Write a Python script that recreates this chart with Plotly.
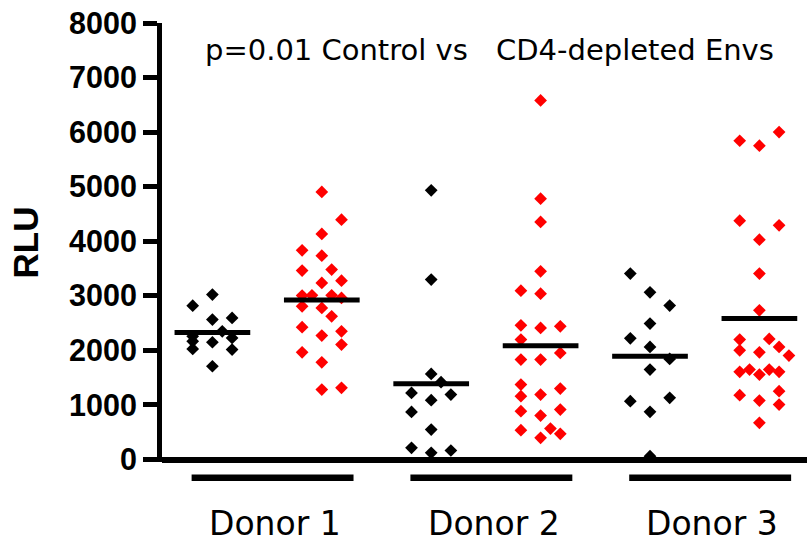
import plotly.graph_objects as go

# Group labels
donors = ["Donor 1", "Donor 2", "Donor 3"]
title_left = "p=0.01 Control vs"
title_right = "CD4-depleted Envs"

# RLU values per donor: control Envs (black) and CD4-depleted Envs (red)
d1_control = [3022, 2820, 2564, 2595, 2350, 2258, 2167, 2027, 2149, 2229, 2015, 1709]
d1_depleted = [4903, 4396, 4134, 3834, 3736, 3462, 3480, 3236, 3278, 3004, 3010, 3010,
               2961, 2808, 2778, 2625, 2424, 2271, 2350, 2106, 1965, 1782, 1282, 1313]
d2_control = [4933, 3297, 1569, 1416, 1221, 1190, 1087, 872, 549, 214, 122, 165]
d2_depleted = [6581, 4780, 4353, 3449, 3095, 3040, 2460, 2412, 2442, 2198, 1832, 1832,
               1954, 1374, 1160, 1190, 1300, 885, 806, 916, 537, 397, 568, 470]
d3_control = [3407, 3065, 2821, 2491, 2222, 2063, 1844, 1648, 1068, 1130, 873, 61]
d3_depleted = [6001, 5842, 5751, 4377, 4292, 4029, 3407, 2735, 2198, 2210, 2002, 1965,
               2063, 1905, 1606, 1648, 1557, 1648, 1606, 1178, 1081, 1251, 1007, 672]

# Horizontal scatter slot of each point (column spread), same order as the values
d1_control_slot = [0, -1, 0, 1, 0.5, -1, -1, -1, 0, 1, 1, 0]
d1_depleted_slot = [0, 1, 0, -1, 0, -1, 0.5, 0, 1, -1, -0.5, 0.5,
                    1, -1, 0, 0.5, -1, 0, 1, 1, -1, 0, 0, 1]
d2_control_slot = [0, 0, 0, 0.5, -1, 1, 0, -1, 0, -1, 0, 1]
d2_depleted_slot = [0, 0, 0, 0, -1, 0, -1, 0, 1, -1, -1, 0,
                    1, -1, -1, 0, 1, -1, 0, 1, -1, 0, 0.5, 1]
d3_control_slot = [-1, 0, 1, 0, -1, 0, 1, 0, -1, 1, 0, 0]
d3_depleted_slot = [1, -1, 0, -1, 1, 0, 0, 0, -1, 0.5, -1, 0,
                    1, 1.5, -1, -0.5, 0, 0.5, 1, -1, 0, 1, 1, 0]

series = [
    (d1_control, d1_control_slot, "black"),
    (d1_depleted, d1_depleted_slot, "#ff0000"),
    (d2_control, d2_control_slot, "black"),
    (d2_depleted, d2_depleted_slot, "#ff0000"),
    (d3_control, d3_control_slot, "black"),
    (d3_depleted, d3_depleted_slot, "#ff0000"),
]

# Layout geometry
W, H = 807, 544
L, T, B = 162, 23, 82
X0_PX, PX_PER_X = 212.4, 109.4          # pixel of first column, pixels per column
PX_PER_Y = 436.5 / 8000                 # pixels per RLU
SLOT = 0.18                             # spread step in column units
HALF_MEAN = 0.346                       # half length of mean bars

x_range = [(L - X0_PX) / PX_PER_X, (W - X0_PX) / PX_PER_X]
plot_h = H - T - B
y_range = [8000 - plot_h / PX_PER_Y, 8000]

fig = go.Figure()

for i, (vals, slots, color) in enumerate(series):
    fig.add_trace(go.Scatter(
        x=[i + s * SLOT for s in slots], y=vals, mode="markers",
        marker=dict(symbol="diamond", size=9.8, color=color, line=dict(width=0)),
        cliponaxis=False, showlegend=False, hoverinfo="y"))

for i, (vals, slots, color) in enumerate(series):
    m = sum(vals) / len(vals)
    fig.add_trace(go.Scatter(
        x=[i - HALF_MEAN, i + HALF_MEAN], y=[m, m], mode="lines",
        line=dict(color="black", width=5), cliponaxis=False,
        showlegend=False, hoverinfo="skip"))

def paper_y(px):
    return (H - B - px) / plot_h

shapes = []
annotations = []
for g, name in enumerate(donors):
    c = 2 * g
    shapes.append(dict(type="line", xref="x", yref="paper",
                       x0=c - 0.19, x1=c + 1.29, y0=paper_y(477.7), y1=paper_y(477.7),
                       line=dict(color="black", width=6.5)))
    annotations.append(dict(text=name, xref="x", yref="paper", x=c + 0.57, y=paper_y(523.5),
                            xanchor="center", yanchor="middle", showarrow=False,
                            font=dict(family="DejaVu Sans", size=33, color="black")))

annotations.append(dict(text=title_left, xref="x", yref="paper", x=(336 - X0_PX) / PX_PER_X,
                        y=paper_y(50), xanchor="center", yanchor="middle", showarrow=False,
                        font=dict(family="DejaVu Sans", size=29, color="black")))
annotations.append(dict(text=title_right, xref="x", yref="paper", x=(635 - X0_PX) / PX_PER_X,
                        y=paper_y(50), xanchor="center", yanchor="middle", showarrow=False,
                        font=dict(family="DejaVu Sans", size=29, color="black")))

fig.update_layout(
    width=W, height=H,
    margin=dict(l=L, r=0, t=T, b=B, pad=0),
    paper_bgcolor="white", plot_bgcolor="white",
    shapes=shapes, annotations=annotations,
    xaxis=dict(range=x_range, showgrid=False, zeroline=False, showline=False,
               showticklabels=False, ticks=""),
    yaxis=dict(range=y_range, tickvals=list(range(0, 8001, 1000)),
               showgrid=False, showline=True, linecolor="black", linewidth=5,
               ticks="outside", ticklen=14, tickwidth=5, tickcolor="black",
               tickfont=dict(family="Liberation Sans", size=30.5, color="black", weight="bold"),
               zeroline=True, zerolinecolor="black", zerolinewidth=6,
               title=dict(text="RLU", standoff=21,
                          font=dict(family="Liberation Sans", size=35, color="black",
                                    weight="bold"))),
)

fig.write_html("out.html")
